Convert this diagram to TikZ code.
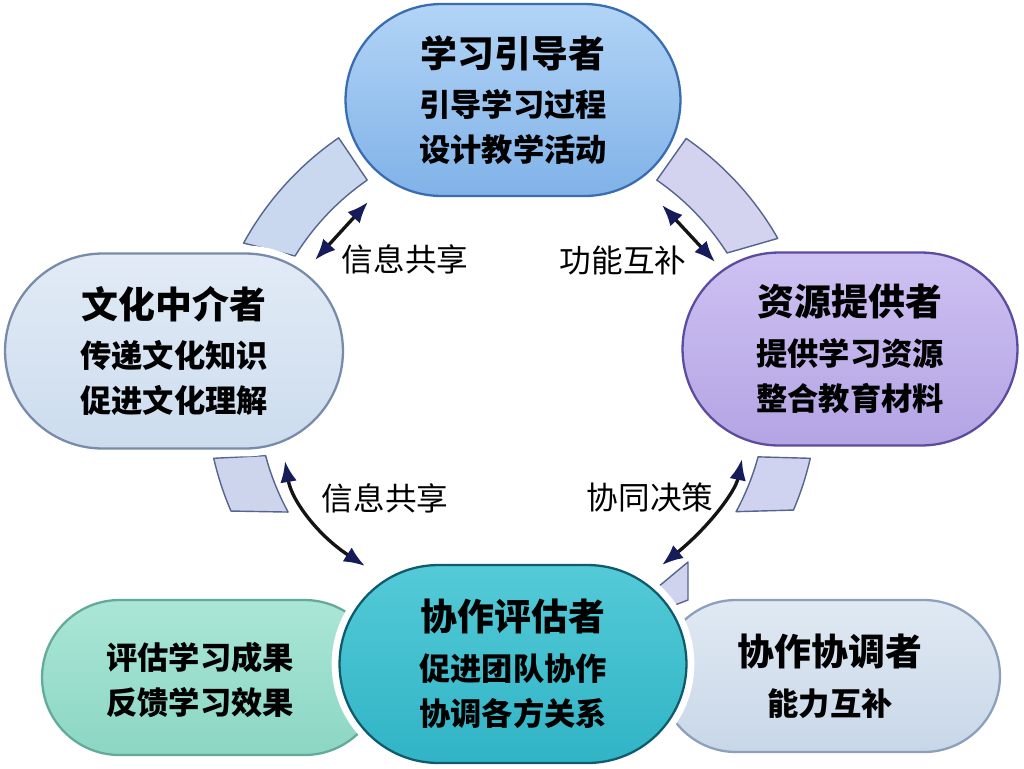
\documentclass[tikz,border=0pt]{standalone}
\usepackage{fontspec}
\setmainfont{Noto Sans CJK SC}
\usetikzlibrary{arrows.meta}
\definecolor{navy}{HTML}{161B5A}
\definecolor{bandline}{HTML}{56658F}
\newcommand\titlef{\fontsize{21}{25.5}\selectfont\bfseries}
\tikzset{
  rolebox/.style={rectangle, line width=1.3pt, preaction={draw=white, line width=9pt},
    align=center, inner sep=0pt, font=\fontsize{17.8}{25.5}\selectfont\bfseries},
  band/.style={draw=bandline, line width=0.8pt, line join=round},
  link/.style={{Latex[length=12pt,width=9.5pt,color=navy]}-{Latex[length=12pt,width=9.5pt,color=navy]},
    line width=1.9pt, draw=black!92},
  lab/.style={font=\fontsize{18}{18}\selectfont, inner sep=1pt},
  bltext/.style={align=center, inner sep=0pt, font=\fontsize{17.8}{25.5}\selectfont\bfseries}
}
\begin{document}
\begin{tikzpicture}[x=0.02cm, y=-0.02cm]
\useasboundingbox[fill=white] (0,0) rectangle (1024,768);
% ring bands (centre 512,390; R 255..306)
\def\ro{306}\def\ri{255}
\draw[band, fill={rgb,255:red,201;green,216;blue,239}]
  plot[domain=151.3:124.5, samples=30] ({512+\ro*cos(\x)},{390-\ro*sin(\x)})
  -- plot[domain=124.6:148.3, samples=30] ({512+\ri*cos(\x)},{390-\ri*sin(\x)}) -- cycle;
\draw[band, fill={rgb,255:red,211;green,211;blue,240}]
  plot[domain=55.3:29.7, samples=30] ({512+\ro*cos(\x)},{390-\ro*sin(\x)})
  -- plot[domain=32.5:55.4, samples=30] ({512+\ri*cos(\x)},{390-\ri*sin(\x)}) -- cycle;
\draw[band, fill={rgb,255:red,205;green,213;blue,236}]
  plot[domain=192.9:203.3, samples=20] ({512+\ro*cos(\x)},{390-\ro*sin(\x)})
  -- plot[domain=208.6:194.9, samples=20] ({512+\ri*cos(\x)},{390-\ri*sin(\x)}) -- cycle;
\draw[band, fill={rgb,255:red,207;green,211;blue,239}]
  plot[domain=-12.9:-23.1, samples=20] ({512+\ro*cos(\x)},{390-\ro*sin(\x)})
  -- plot[domain=-28.5:-15.2, samples=20] ({512+\ri*cos(\x)},{390-\ri*sin(\x)}) -- cycle;
\draw[band, fill={rgb,255:red,208;green,211;blue,238}]
  (688,562) -- (658,587) -- (675,605) -- (688,600) -- cycle;
% nodes
\node[rolebox, minimum width=6.7cm, minimum height=3.84cm, rounded corners=1.92cm,
  top color={rgb,255:red,178;green,212;blue,246}, bottom color={rgb,255:red,128;green,178;blue,232},
  draw={rgb,255:red,58;green,108;blue,176}] (lead) at (513,100)
  {{\titlef 学习引导者}\\[2.8pt]引导学习过程\\设计教学活动};
\node[rolebox, minimum width=6.76cm, minimum height=3.9cm, rounded corners=1.95cm,
  top color={rgb,255:red,226;green,235;blue,246}, bottom color={rgb,255:red,204;green,220;blue,238},
  draw={rgb,255:red,120;green,140;blue,170}] (culture) at (174,351)
  {{\titlef 文化中介者}\\[2.8pt]传递文化知识\\促进文化理解};
\node[rolebox, minimum width=6.7cm, minimum height=3.86cm, rounded corners=1.93cm,
  top color={rgb,255:red,206;green,193;blue,242}, bottom color={rgb,255:red,180;green,164;blue,228},
  draw={rgb,255:red,92;green,76;blue,158}] (resource) at (850,349)
  {{\titlef 资源提供者}\\[2.8pt]提供学习资源\\整合教育材料};
\node[rolebox, minimum width=6.8cm, minimum height=3.1cm, rounded corners=1.55cm,
  top color={rgb,255:red,170;green,230;blue,214}, bottom color={rgb,255:red,140;green,214;blue,196},
  draw={rgb,255:red,100;green,170;blue,155}] (evalbox) at (212,677.5) {};
\node[bltext] (evaltext) at (200,680) {评估学习成果\\反馈学习效果};
\node[rolebox, minimum width=6.8cm, minimum height=3.04cm, rounded corners=1.52cm,
  top color={rgb,255:red,224;green,233;blue,243}, bottom color={rgb,255:red,200;green,215;blue,232},
  draw={rgb,255:red,140;green,160;blue,188}] (coord) at (830,676)
  {{\titlef 协作协调者}\\[2.8pt]能力互补};
\node[rolebox, minimum width=6.94cm, minimum height=3.96cm, rounded corners=1.98cm,
  top color={rgb,255:red,84;green,202;blue,215}, bottom color={rgb,255:red,48;green,180;blue,198},
  draw={rgb,255:red,16;green,90;blue,110}] (collab) at (513,664)
  {{\titlef 协作评估者}\\[2.8pt]促进团队协作\\协调各方关系};
% arrow ends
\coordinate (a1s) at (315,260); \coordinate (a1e) at (368,202);
\coordinate (a2s) at (662,205); \coordinate (a2e) at (715,262);
\coordinate (a3s) at (285,461); \coordinate (a3e) at (365,566);
\coordinate (a4s) at (742,459); \coordinate (a4e) at (662,565);
\draw[link] (a1s) -- (a1e);
\draw[link] (a2s) -- (a2e);
\draw[link] (a3s) .. controls (291.7,500.7) and (318.3,535.7) .. (a3e);
\draw[link] (a4s) .. controls (735.3,491.7) and (708.7,527) .. (a4e);
% labels
\node[lab] (l1) at (405,259) {信息共享};
\node[lab] (l2) at (623,260) {功能互补};
\node[lab] (l3) at (385,498) {信息共享};
\node[lab] (l4) at (650,497) {协同决策};
\end{tikzpicture}
\end{document}
